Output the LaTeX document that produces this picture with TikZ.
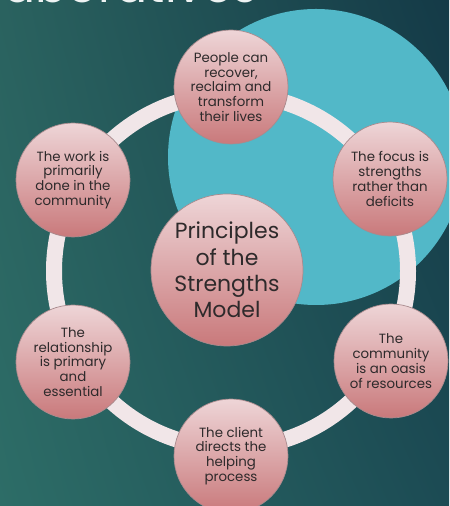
\documentclass[tikz,border=0pt]{standalone}
\usepackage{fontspec}
\setmainfont{Poppins}
\usetikzlibrary{positioning,shadings}

\definecolor{bgleft}{HTML}{2D6D67}
\definecolor{bgright}{HTML}{143A47}
\definecolor{bgbotright}{HTML}{1C4B54}
\definecolor{bgtopleft}{HTML}{2A625F}
\definecolor{lagoon}{HTML}{52B8C8}
\definecolor{pinktop}{HTML}{EED5D7}
\definecolor{pinkbot}{HTML}{C9797B}
\definecolor{ringcol}{HTML}{F1E6E8}
\definecolor{rimcol}{HTML}{A88A8D}
\definecolor{inkcol}{HTML}{2E2A2B}

\begin{document}
\begin{tikzpicture}[
  x=0.02cm, y=0.02cm,
  mynode/.style={draw=rimcol,line width=0.4pt,circle,minimum size=2.28cm,inner sep=0pt,
    top color=pinktop,bottom color=pinkbot,text=inkcol,align=center,
    font=\fontsize{7.6}{8.4}\selectfont},
  bignode/.style={mynode,minimum size=3.04cm,font=\fontsize{12.5}{15}\selectfont}
]
\useasboundingbox (0,0) rectangle (449,506);
\clip (0,0) rectangle (449,506);

% background and title
\shade[upper left=bgtopleft,lower left=bgleft,upper right=bgright,lower right=bgbotright]
  (0,0) rectangle (449,506);
\node[anchor=base east,inner sep=0pt,text=white!92!bgleft,font=\fontsize{27}{30}\selectfont]
  (title) at (258,503) {Collaboratives};
\fill[lagoon] (316,349) circle (148);

% ring
\coordinate (ring) at (231,235);
\draw[ringcol,line width=0.32cm] (ring) circle (177);

\node[bignode] (m) at (227,236) {Principles\\of the\\Strengths\\Model};
\node[mynode] (a) at (231,419) {People can\\recover,\\reclaim and\\transform\\their lives};
\node[mynode] (b) at (390,327) {The focus is\\strengths\\rather than\\deficits};
\node[mynode] (c) at (391,145) {The\\community\\is an oasis\\of resources};
\node[mynode] (d) at (231,50) {The client\\directs the\\helping\\process};
\node[mynode] (e) at (73,144) {The\\relationship\\is primary\\and\\essential};
\node[mynode] (f) at (73,326) {The work is\\primarily\\done in the\\community};

\end{tikzpicture}
\end{document}
